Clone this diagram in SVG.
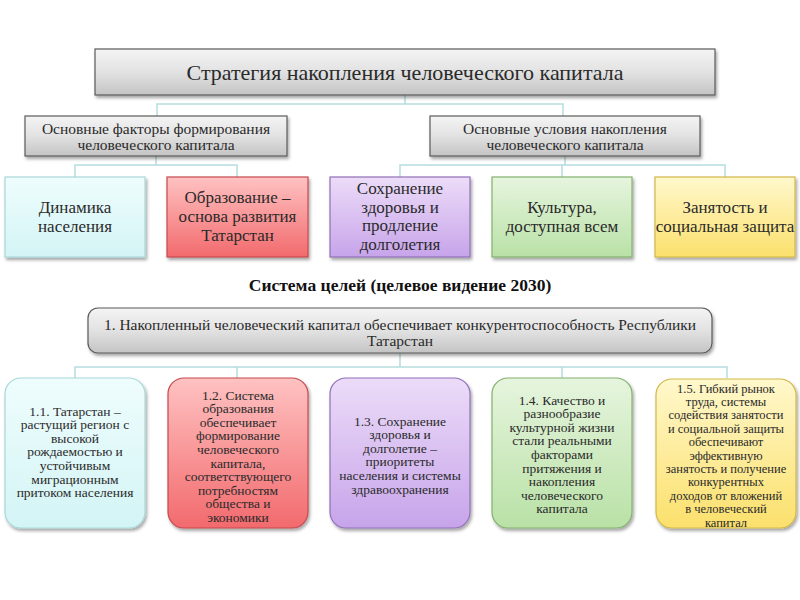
<svg xmlns="http://www.w3.org/2000/svg" width="800" height="600" viewBox="0 0 800 600">
<defs>
<filter id="sh" x="-10%" y="-10%" width="125%" height="130%">
<feDropShadow dx="1.5" dy="2.5" stdDeviation="1.8" flood-color="#000" flood-opacity="0.35"/>
</filter>
<linearGradient id="gGray" x1="0" y1="0" x2="0" y2="1">
<stop offset="0" stop-color="#f4f4f4"/><stop offset="0.5" stop-color="#e2e2e2"/><stop offset="1" stop-color="#c4c4c4"/>
</linearGradient>
<linearGradient id="gCyan" x1="0" y1="0" x2="0" y2="1">
<stop offset="0" stop-color="#effdfd"/><stop offset="1" stop-color="#d3f4f5"/>
</linearGradient>
<linearGradient id="gRed" x1="0" y1="0" x2="0" y2="1">
<stop offset="0" stop-color="#ffc2c2"/><stop offset="1" stop-color="#f26a6d"/>
</linearGradient>
<linearGradient id="gPurple" x1="0" y1="0" x2="0" y2="1">
<stop offset="0" stop-color="#ecdcf8"/><stop offset="1" stop-color="#c7a4ea"/>
</linearGradient>
<linearGradient id="gGreen" x1="0" y1="0" x2="0" y2="1">
<stop offset="0" stop-color="#e6f5de"/><stop offset="1" stop-color="#b9e1a6"/>
</linearGradient>
<linearGradient id="gYellow" x1="0" y1="0" x2="0" y2="1">
<stop offset="0" stop-color="#fff8cc"/><stop offset="1" stop-color="#fbe06c"/>
</linearGradient>
</defs>
<style>
text{font-family:"Liberation Serif","DejaVu Serif",serif;fill:#2a2a2a;text-anchor:middle}
.gray{fill:url(#gGray);stroke:#5a5a5a;stroke-width:1.2;filter:url(#sh)}
.cyan{fill:url(#gCyan);stroke:#a9d8da;stroke-width:1.2;filter:url(#sh)}
.red{fill:url(#gRed);stroke:#c54a4d;stroke-width:1.2;filter:url(#sh)}
.purple{fill:url(#gPurple);stroke:#9070b8;stroke-width:1.2;filter:url(#sh)}
.green{fill:url(#gGreen);stroke:#83b16e;stroke-width:1.2;filter:url(#sh)}
.yellow{fill:url(#gYellow);stroke:#d2b74a;stroke-width:1.2;filter:url(#sh)}
.conn{fill:none;stroke:#b5dcdf;stroke-width:1.5}
.t1{font-size:22px}
.t2{font-size:15.5px}
.t3{font-size:17px}
.tg{font-size:17.5px;font-weight:bold;fill:#111}
.t4{font-size:15.5px}
.t5{font-size:13.5px}
.t6{font-size:12.5px}
</style>
<rect width="800" height="600" fill="#fff"/>
<g id="connectors">
<path class="conn" d="M405 95V104M157 116V104H563V116"/>
<path class="conn" d="M156 156V165M75 177V165H237V177"/>
<path class="conn" d="M565 156V165M400 177V165H725V177M562 165V177"/>
<path class="conn" d="M400 353V367M75 378V367H727V378M237 367V378M562 367V378"/>
</g>
<g id="top">
<rect class="gray" x="95" y="49" width="620" height="46"/>
<text class="t1" x="405" y="79.5">Стратегия накопления человеческого капитала</text>
</g>
<g id="factors">
<rect class="gray" x="25" y="116" width="262" height="40"/>
<text class="t2" x="156" y="133.5">Основные факторы формирования</text>
<text class="t2" x="156" y="149.5">человеческого капитала</text>
</g>
<g id="conditions">
<rect class="gray" x="430" y="116" width="270" height="40"/>
<text class="t2" x="565" y="133.5">Основные условия накопления</text>
<text class="t2" x="565" y="149.5">человеческого капитала</text>
</g>
<g id="f1">
<rect class="cyan" x="5" y="177" width="140" height="80"/>
<text class="t3" x="75" y="213">Динамика</text>
<text class="t3" x="75" y="232">населения</text>
</g>
<g id="f2">
<rect class="red" x="167" y="177" width="141" height="80"/>
<text class="t3" x="237.5" y="203">Образование –</text>
<text class="t3" x="237.5" y="222">основа развития</text>
<text class="t3" x="237.5" y="241">Татарстан</text>
</g>
<g id="c1">
<rect class="purple" x="330" y="177" width="140" height="80"/>
<text class="t3" x="400" y="194">Сохранение</text>
<text class="t3" x="400" y="212.5">здоровья и</text>
<text class="t3" x="400" y="231">продление</text>
<text class="t3" x="400" y="249.5">долголетия</text>
</g>
<g id="c2">
<rect class="green" x="492" y="177" width="140" height="80"/>
<text class="t3" x="562" y="213">Культура,</text>
<text class="t3" x="562" y="232">доступная всем</text>
</g>
<g id="c3">
<rect class="yellow" x="655" y="177" width="140" height="80"/>
<text class="t3" x="725" y="213">Занятость и</text>
<text class="t3" x="725" y="232">социальная защита</text>
</g>
<text class="tg" x="400" y="291">Система целей (целевое видение 2030)</text>
<g id="goal">
<rect class="gray" x="88" y="308" width="624" height="45" rx="10"/>
<text class="t4" x="400" y="330">1. Накопленный человеческий капитал обеспечивает конкурентоспособность Республики</text>
<text class="t4" x="400" y="346">Татарстан</text>
</g>
<g id="g11">
<rect class="cyan" x="5" y="378" width="140" height="150" rx="16"/>
<text class="t5" x="75" y="415.5">1.1. Татарстан –</text>
<text class="t5" x="75" y="429.1">растущий регион с</text>
<text class="t5" x="75" y="442.7">высокой</text>
<text class="t5" x="75" y="456.3">рождаемостью и</text>
<text class="t5" x="75" y="469.9">устойчивым</text>
<text class="t5" x="75" y="483.5">миграционным</text>
<text class="t5" x="75" y="497.1">притоком населения</text>
</g>
<g id="g12">
<rect class="red" x="168" y="378" width="140" height="150" rx="16"/>
<text class="t5" x="238" y="399.5">1.2. Система</text>
<text class="t5" x="238" y="413.1">образования</text>
<text class="t5" x="238" y="426.7">обеспечивает</text>
<text class="t5" x="238" y="440.3">формирование</text>
<text class="t5" x="238" y="453.9">человеческого</text>
<text class="t5" x="238" y="467.5">капитала,</text>
<text class="t5" x="238" y="481.1">соответствующего</text>
<text class="t5" x="238" y="494.7">потребностям</text>
<text class="t5" x="238" y="508.3">общества и</text>
<text class="t5" x="238" y="521.9">экономики</text>
</g>
<g id="g13">
<rect class="purple" x="330" y="378" width="140" height="150" rx="16"/>
<text class="t5" x="400" y="425.5">1.3. Сохранение</text>
<text class="t5" x="400" y="439.1">здоровья и</text>
<text class="t5" x="400" y="452.7">долголетие –</text>
<text class="t5" x="400" y="466.3">приоритеты</text>
<text class="t5" x="400" y="479.9">населения и системы</text>
<text class="t5" x="400" y="493.5">здравоохранения</text>
</g>
<g id="g14">
<rect class="green" x="492" y="378" width="140" height="150" rx="16"/>
<text class="t5" x="562" y="404.5">1.4. Качество и</text>
<text class="t5" x="562" y="418.1">разнообразие</text>
<text class="t5" x="562" y="431.7">культурной жизни</text>
<text class="t5" x="562" y="445.3">стали реальными</text>
<text class="t5" x="562" y="458.9">факторами</text>
<text class="t5" x="562" y="472.5">притяжения и</text>
<text class="t5" x="562" y="486.1">накопления</text>
<text class="t5" x="562" y="499.7">человеческого</text>
<text class="t5" x="562" y="513.3">капитала</text>
</g>
<g id="g15">
<rect class="yellow" x="656" y="379" width="140" height="149" rx="16"/>
<text class="t6" x="726" y="392.5">1.5. Гибкий рынок</text>
<text class="t6" x="726" y="405.9">труда, системы</text>
<text class="t6" x="726" y="419.3">содействия занятости</text>
<text class="t6" x="726" y="432.7">и социальной защиты</text>
<text class="t6" x="726" y="446.1">обеспечивают</text>
<text class="t6" x="726" y="459.5">эффективную</text>
<text class="t6" x="726" y="472.9">занятость и получение</text>
<text class="t6" x="726" y="486.3">конкурентных</text>
<text class="t6" x="726" y="499.7">доходов от вложений</text>
<text class="t6" x="726" y="513.1">в человеческий</text>
<text class="t6" x="726" y="526.5">капитал</text>
</g>
</svg>
